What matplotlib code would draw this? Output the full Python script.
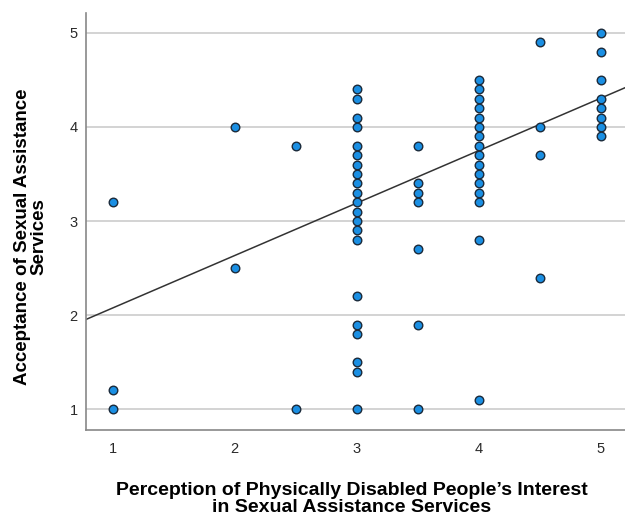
import matplotlib
matplotlib.use("Agg")
import matplotlib.pyplot as plt
import numpy as np

plt.rcParams['font.family'] = ['Liberation Sans', 'DejaVu Sans']

# perception score (x) and acceptance score (y)
x_vals = ([1] * 3 + [2] * 2 + [2.5] * 2 + [3] * 21 + [3.5] * 7
          + [4] * 16 + [4.5] * 4 + [5] * 8)
y_vals = ([3.2, 1.2, 1.0]
          + [4.0, 2.5]
          + [3.8, 1.0]
          + [4.4, 4.3, 4.1, 4.0, 3.8, 3.7, 3.6, 3.5, 3.4, 3.3, 3.2, 3.1, 3.0,
             2.9, 2.8, 2.2, 1.9, 1.8, 1.5, 1.4, 1.0]
          + [3.8, 3.4, 3.3, 3.2, 2.7, 1.9, 1.0]
          + [4.5, 4.4, 4.3, 4.2, 4.1, 4.0, 3.9, 3.8, 3.7, 3.6, 3.5, 3.4, 3.3,
             3.2, 2.8, 1.1]
          + [4.9, 4.0, 3.7, 2.4]
          + [5.0, 4.8, 4.5, 4.3, 4.2, 4.1, 4.0, 3.9])

# fit line (intercept, slope)
fit_intercept = 1.52
fit_slope = 0.557

x_ticks = [1, 2, 3, 4, 5]
y_ticks = [1, 2, 3, 4, 5]

fig = plt.figure(figsize=(6.25, 5.16), dpi=100)
ax = fig.add_axes([0.1376, 0.1667, 0.8624, 0.808])

xlim = (0.78, 5.2)
ylim = (0.78, 5.21)

for t in y_ticks:
    ax.axhline(t, color='#d0d0d0', lw=1.3, zorder=0)

xs = np.array(xlim)
ax.plot(xs, fit_intercept + fit_slope * xs, color='#333333', lw=1.1, zorder=2)

ax.scatter(x_vals, y_vals, s=38, facecolor='#1a8fe3', edgecolor='#1b2a3a',
           linewidths=1.0, zorder=3)

ax.set_xlim(*xlim)
ax.set_ylim(*ylim)
ax.set_xticks(x_ticks)
ax.set_yticks(y_ticks)
ax.tick_params(length=0, labelsize=10.5, colors='#2a2a2a')
ax.tick_params(axis='x', pad=9)
ax.tick_params(axis='y', pad=6)

for side in ['top', 'right']:
    ax.spines[side].set_visible(False)
for side in ['left', 'bottom']:
    ax.spines[side].set_color('#888888')
    ax.spines[side].set_linewidth(1.2)

# axis titles placed as free text to match the original layout
fig.text(352 / 625, 1 - 499 / 516,
         "Perception of Physically Disabled People\u2019s Interest\n"
         "in Sexual Assistance Services",
         ha='center', va='center', fontsize=14, fontweight='bold',
         linespacing=0.98)
fig.text(31 / 625, 1 - 237 / 516,
         "Acceptance of Sexual Assistance\nServices",
         ha='center', va='center', rotation=90, fontsize=13.5,
         fontweight='bold', linespacing=0.95)

fig.savefig('out.png', dpi=100, facecolor='white')
